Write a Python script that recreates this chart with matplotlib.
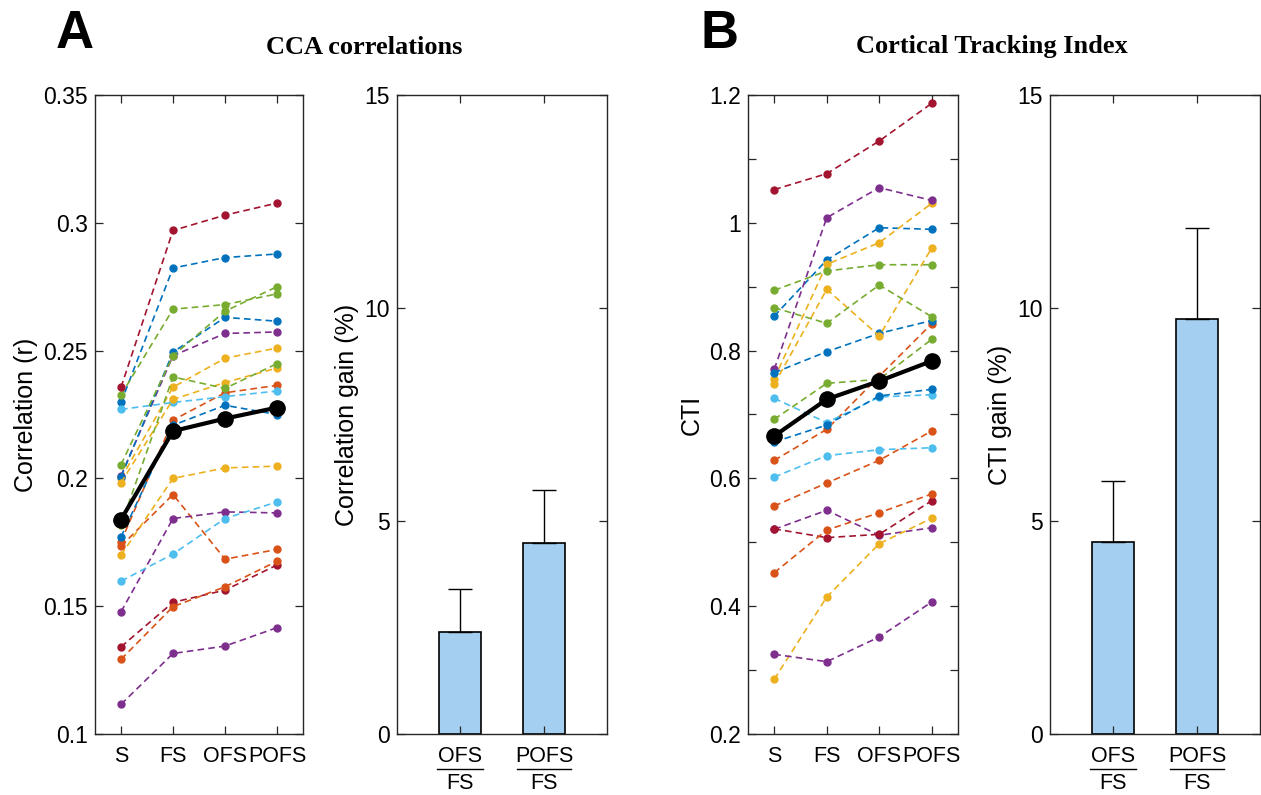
import numpy as np
import matplotlib
matplotlib.use('Agg')
import matplotlib.pyplot as plt
from matplotlib.ticker import MultipleLocator
import matplotlib.transforms as mtransforms

plt.rcParams['font.family'] = ['Liberation Sans', 'DejaVu Sans']

# MATLAB default colour order
blue = (0.000, 0.447, 0.741)
orange = (0.850, 0.325, 0.098)
yellow = (0.929, 0.694, 0.125)
purple = (0.494, 0.184, 0.556)
green = (0.466, 0.674, 0.188)
lightblue = (0.301, 0.745, 0.933)
red = (0.635, 0.078, 0.184)

conditions = ['S', 'FS', 'OFS', 'POFS']
gain_labels = [('OFS', 'FS'), ('POFS', 'FS')]

# CCA correlations per subject (S, FS, OFS, POFS)
cca_subjects = [
    (blue, [0.2297, 0.2823, 0.2864, 0.2878]),
    (orange, [0.1752, 0.2228, 0.2335, 0.2364]),
    (yellow, [0.2000, 0.2357, 0.2470, 0.2510]),
    (purple, [0.2010, 0.2480, 0.2567, 0.2573]),
    (green, [0.2326, 0.2662, 0.2680, 0.2722]),
    (lightblue, [0.2270, 0.2297, 0.2320, 0.2342]),
    (red, [0.2356, 0.2970, 0.3030, 0.3077]),
    (blue, [0.2006, 0.2494, 0.2630, 0.2615]),
    (orange, [0.1735, 0.1937, 0.1684, 0.1722]),
    (yellow, [0.1983, 0.2309, 0.2375, 0.2432]),
    (purple, [0.1478, 0.1843, 0.1869, 0.1865]),
    (green, [0.2054, 0.2480, 0.2654, 0.2750]),
    (lightblue, [0.1598, 0.1704, 0.1843, 0.1908]),
    (red, [0.1341, 0.1515, 0.1563, 0.1661]),
    (blue, [0.1771, 0.2208, 0.2286, 0.2250]),
    (orange, [0.1292, 0.1498, 0.1576, 0.1676]),
    (yellow, [0.1700, 0.2000, 0.2041, 0.2048]),
    (purple, [0.1116, 0.1315, 0.1344, 0.1416]),
    (green, [0.1817, 0.2397, 0.2352, 0.2449]),
]
cca_mean = [0.1839, 0.2185, 0.2234, 0.2277]
cca_gain = [2.40, 4.48]
cca_gain_err = [1.00, 1.25]

# Cortical tracking index per subject (S, FS, OFS, POFS)
cti_subjects = [
    (blue, [0.854, 0.9418, 0.9923, 0.9898]),
    (orange, [0.6283, 0.6768, 0.760, 0.842]),
    (yellow, [0.756, 0.935, 0.9689, 1.0305]),
    (purple, [0.7707, 1.008, 1.055, 1.035]),
    (green, [0.8944, 0.9246, 0.9344, 0.9344]),
    (lightblue, [0.7253, 0.6872, 0.7274, 0.731]),
    (red, [1.052, 1.0769, 1.128, 1.187]),
    (blue, [0.7654, 0.7983, 0.827, 0.847]),
    (orange, [0.5568, 0.5928, 0.6283, 0.6742]),
    (yellow, [0.7472, 0.8959, 0.8228, 0.9606]),
    (purple, [0.5203, 0.5501, 0.511, 0.5228]),
    (green, [0.8671, 0.8427, 0.9026, 0.853]),
    (lightblue, [0.6022, 0.6356, 0.6449, 0.648]),
    (red, [0.521, 0.5073, 0.5125, 0.5651]),
    (blue, [0.657, 0.6836, 0.729, 0.7394]),
    (orange, [0.4524, 0.5192, 0.5463, 0.5756]),
    (yellow, [0.2856, 0.4144, 0.4978, 0.5376]),
    (purple, [0.3247, 0.3132, 0.3518, 0.4066]),
    (green, [0.6925, 0.7488, 0.755, 0.8177]),
]
cti_mean = [0.6664, 0.7238, 0.7524, 0.7837]
cti_gain = [4.51, 9.74]
cti_gain_err = [1.43, 2.14]

bar_colour = '#a4cff0'
spine_colour = '#262626'
tick_fs = 16.5
xtick_fs = 15.5
label_fs = 18


def style_axes(ax):
    for s in ax.spines.values():
        s.set_color(spine_colour)
        s.set_linewidth(1.0)
    ax.tick_params(which='both', direction='in', top=True, right=True,
                   length=6, width=0.9, color=spine_colour,
                   labelsize=tick_fs, pad=5)


def draw_lines(ax, subjects, mean, ylim, ylabel, major, minor=None, fmt=None):
    x = np.arange(1, len(conditions) + 1)
    for c, vals in subjects:
        ax.plot(x, vals, ls=(0, (4, 2.5)), lw=1.2, color=c,
                marker='o', ms=5, mec=c, mfc=c)
    ax.plot(x, mean, color='k', lw=3, marker='o', ms=11)
    ax.set_xlim(0.5, 4.5)
    ax.set_ylim(*ylim)
    ax.set_xticks(x)
    ax.set_xticklabels(conditions)
    ax.yaxis.set_major_locator(MultipleLocator(major))
    if minor:
        ax.yaxis.set_minor_locator(MultipleLocator(minor))
    if fmt:
        ax.yaxis.set_major_formatter(fmt)
    ax.set_ylabel(ylabel, fontsize=label_fs, labelpad=4)
    style_axes(ax)
    ax.tick_params(axis='x', pad=9, labelsize=xtick_fs)


def draw_bar_chart(ax, gain, err, ylabel):
    x = np.arange(1, len(gain) + 1)
    ax.bar(x, gain, 0.5, color=bar_colour, edgecolor='k', linewidth=1.2)
    ax.errorbar(x, gain, yerr=[np.zeros(len(err)), err], fmt='none',
                ecolor='k', elinewidth=1.0, capsize=8.5, capthick=1.0)
    ax.set_xlim(0.25, 2.75)
    ax.set_ylim(0, 15)
    ax.set_yticks([0, 5, 10, 15])
    ax.set_xticks(x)
    ax.set_xticklabels(['', ''])
    ax.set_ylabel(ylabel, fontsize=label_fs, labelpad=4)
    style_axes(ax)
    trans = mtransforms.blended_transform_factory(ax.transData, ax.transAxes)
    for xi, (num, den) in zip(x, gain_labels):
        ax.text(xi, -0.019, num, transform=trans, ha='center', va='top', fontsize=xtick_fs)
        ax.text(xi, -0.061, den, transform=trans, ha='center', va='top', fontsize=xtick_fs)
        half = 0.27 if len(num) < 4 else 0.32
        ax.plot([xi - half, xi + half], [-0.055, -0.055], transform=trans,
                color='k', lw=1.0, clip_on=False)


def fmt_cca(v, pos):
    return ('%.2f' % v).rstrip('0').rstrip('.')


def fmt_cti(v, pos):
    return ('%.1f' % v).rstrip('0').rstrip('.')


fig = plt.figure(figsize=(12.61, 7.95), dpi=100)
W, H = 1261.0, 795.0
bottom = (H - 734) / H
height = 639 / H

ax1 = fig.add_axes([95 / W, bottom, 208 / W, height])
ax2 = fig.add_axes([397 / W, bottom, 210 / W, height])
ax3 = fig.add_axes([748 / W, bottom, 210 / W, height])
ax4 = fig.add_axes([1050 / W, bottom, 210 / W, height])

draw_lines(ax1, cca_subjects, cca_mean, (0.1, 0.35), 'Correlation (r)', 0.05,
           fmt=plt.FuncFormatter(fmt_cca))
draw_bar_chart(ax2, cca_gain, cca_gain_err, 'Correlation gain (%)')
draw_lines(ax3, cti_subjects, cti_mean, (0.2, 1.2), 'CTI', 0.2, minor=0.1,
           fmt=plt.FuncFormatter(fmt_cti))
draw_bar_chart(ax4, cti_gain, cti_gain_err, 'CTI gain (%)')

fig.text(75 / W, 1 - 34 / H, 'A', fontsize=38, fontweight='bold', ha='center', va='center')
fig.text(720 / W, 1 - 34 / H, 'B', fontsize=38, fontweight='bold', ha='center', va='center')
fig.text(364 / W, 1 - 47 / H, 'CCA correlations', fontsize=19, fontweight='bold',
         family=['Liberation Serif', 'DejaVu Serif'], ha='center', va='center')
fig.text(992 / W, 1 - 47 / H, 'Cortical Tracking Index', fontsize=19, fontweight='bold',
         family=['Liberation Serif', 'DejaVu Serif'], ha='center', va='center')

fig.savefig('out.png', dpi=100)
